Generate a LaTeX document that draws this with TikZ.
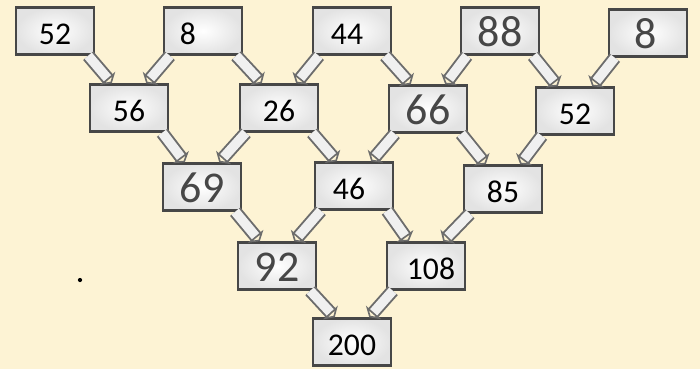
\documentclass[tikz,border=0pt]{standalone}
\usepackage{fontspec}
\setmainfont{Carlito}
\usetikzlibrary{arrows.meta}
\definecolor{paper}{HTML}{FDF3D4}
\definecolor{rim}{HTML}{474747}
\tikzset{
  box/.style={rectangle,draw=rim,inner color=white,outer color=gray!22,line width=1.4pt,minimum width=1.56cm,minimum height=0.94cm,inner sep=0pt,text height=0.52cm,text depth=0pt,font=\fontsize{18}{20}\selectfont},
  hand/.style={font=\fontsize{25}{28}\selectfont,text=black!72,text height=0.6cm},
  pipe/.style={draw=rim!80,line width=1.1pt,double=white!88!gray,double distance=0.19cm,-{Triangle[open,width=0.4cm,length=0.13cm]}}
}

\begin{document}
\begin{tikzpicture}[x=0.02cm,y=-0.02cm]
\path[fill=paper,use as bounding box] (0,0) rectangle (700,369);
% top row
\node[box] (a1) at (55,31) {52};
\node[box] (a2) at (203,31) {8\kern0.6cm};
\node[box] (a3) at (352,31) {44\kern0.2cm};
\node[box,hand] (a4) at (500,31) {88};
\node[box,hand] (a5) at (648,33) {8\kern0.1cm};
% second row
\node[box] (b1) at (129,108) {56};
\node[box] (b2) at (279,108) {26};
\node[box,hand] (b3) at (428,109) {66};
\node[box] (b4) at (575,111) {52};
% third row
\node[box,hand] (c1) at (202,187) {69};
\node[box] (c2) at (354,186) {46\kern0.2cm};
\node[box] (c3) at (503,189) {85};
% fourth row
\node[box,hand] (d1) at (277,266) {92};
\node[box] (d2) at (426,266) {\kern0.2cm108};
% bottom
\node[box] (e1) at (352,342) {200};
% pipes down to the right
\foreach \u/\v in {a1/b1,a2/b2,a3/b3,a4/b4,b1/c1,b2/c2,b3/c3,c1/d1,c2/d2,d1/e1}
  \draw[pipe] ([xshift=-0.14cm]\u.south east) -- ([xshift=0.46cm]\v.north west);
% pipes down to the left
\foreach \u/\v in {a2/b1,a3/b2,a4/b3,a5/b4,b2/c1,b3/c2,b4/c3,c2/d1,c3/d2,d2/e1}
  \draw[pipe] ([xshift=0.14cm]\u.south west) -- ([xshift=-0.46cm]\v.north east);
\fill (80,280) circle (1.2pt);
\end{tikzpicture}
\end{document}
